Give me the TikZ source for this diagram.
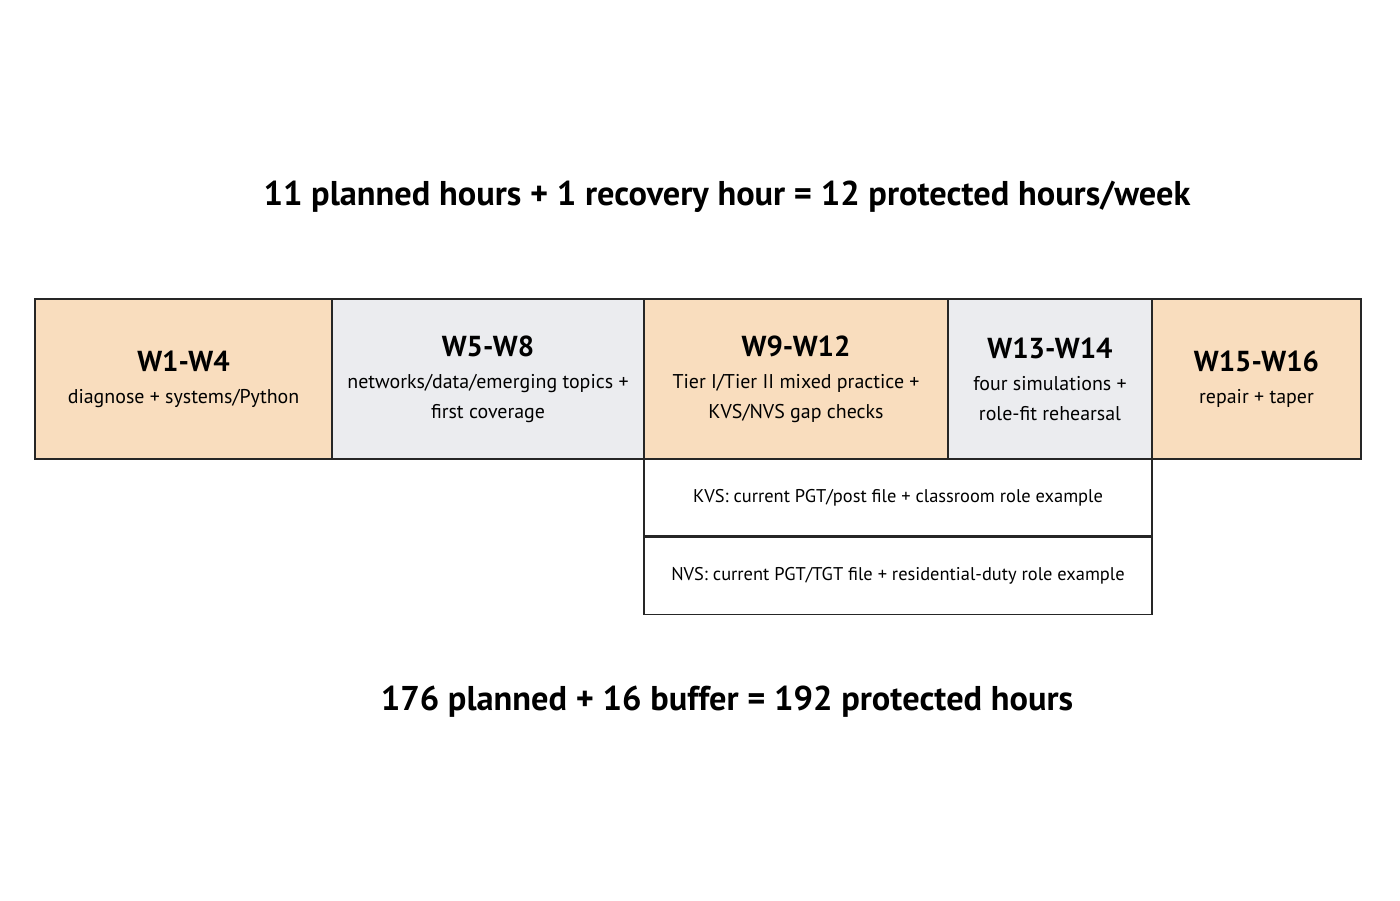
\documentclass[tikz,border=0pt]{standalone}
\usepackage{fontspec}
\setmainfont{PT Sans}
\usetikzlibrary{positioning}
\definecolor{phaseorange}{HTML}{F9DDBE}
\definecolor{phasegray}{HTML}{EBECEF}
\tikzset{
  phase/.style={draw=black!85, line width=1.2pt, minimum height=160bp, inner sep=0pt, align=center, font=\fontsize{20}{30}\selectfont},
  rolebox/.style={draw=black!85, line width=1.2pt, minimum width=508bp, minimum height=77bp, inner sep=0pt, font=\fontsize{18.5}{22}\selectfont},
  headline/.style={font=\fontsize{34.5}{40}\selectfont\bfseries}
}
\newcommand{\wk}[1]{{\fontsize{29}{34}\selectfont\bfseries #1}}
\begin{document}
\begin{tikzpicture}[x=1bp, y=1bp]
  \useasboundingbox (0,0) rectangle (1400,900);
  %%
  \node (hours_week) at (727,703) [headline] {11 planned hours + 1 recovery hour = 12 protected hours/week};
  \node (w1) at (183.5,521) [phase, fill=phaseorange, minimum width=297bp] {\wk{W1-W4}\\[2pt]diagnose + systems/Python};
  \node (w5) at (488,521) [phase, fill=phasegray, minimum width=312bp] {\wk{W5-W8}\\[2pt]networks/data/emerging topics +\\first coverage};
  \node (w9) at (796,521) [phase, fill=phaseorange, minimum width=304bp] {\wk{W9-W12}\\[2pt]Tier I/Tier II mixed practice +\\KVS/NVS gap checks};
  \node (w13) at (1050,521) [phase, fill=phasegray, minimum width=204bp] {\wk{W13-W14}\\[2pt]four simulations +\\role-fit rehearsal};
  \node (w15) at (1256.5,521) [phase, fill=phaseorange, minimum width=209bp] {\wk{W15-W16}\\[2pt]repair + taper};
  \node (kvs) at (898,402.5) [rolebox] {KVS: current PGT/post file + classroom role example};
  \node (nvs) [rolebox, below=0pt of kvs] {NVS: current PGT/TGT file + residential-duty role example};
  \node (hours_total) at (727,198) [headline] {176 planned + 16 buffer = 192 protected hours};
%
\end{tikzpicture}
\end{document}
